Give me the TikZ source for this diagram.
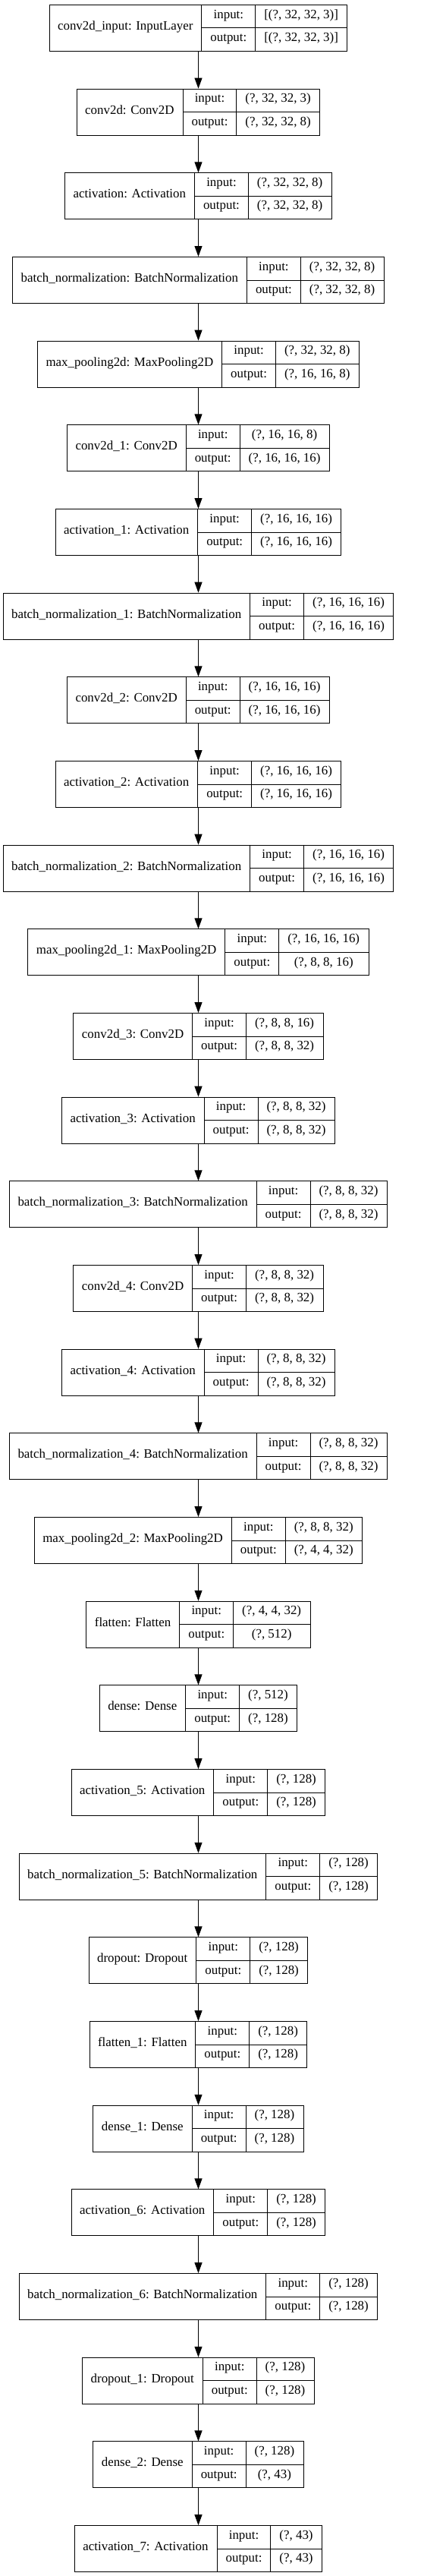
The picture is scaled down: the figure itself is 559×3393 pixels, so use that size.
\documentclass[tikz,border=0pt]{standalone}
\usepackage{fontspec}
\setmainfont{Liberation Serif}
\usetikzlibrary{arrows.meta}
\newlength\lwa \newlength\lwb \newlength\lwc \newlength\ltmp \newlength\lwt \newlength\lxl \newlength\lyt
\newcommand\lfont{\fontsize{16.9}{20}\selectfont}
\tikzset{
  box/.style={draw, line width=1pt, inner sep=0pt, minimum height=61pt},
  sep/.style={line width=1pt},
  txt/.style={inner sep=0pt, font=\lfont, text height=0.68em, text depth=0.2em},
  conn/.style={line width=1pt, -{Triangle[length=14pt,width=10pt]}}
}
\newcommand\meas[4]{%
  \settowidth\lwa{\lfont #2}\addtolength\lwa{23pt}%
  \settowidth\lwb{\lfont output:}\addtolength\lwb{23pt}%
  \settowidth\lwc{\lfont #3}\settowidth\ltmp{\lfont #4}%
  \ifdim\ltmp>\lwc \lwc=\ltmp\fi\addtolength\lwc{23pt}%
  \expandafter\xdef\csname mwa#1\endcsname{\the\lwa}%
  \expandafter\xdef\csname mwb#1\endcsname{\the\lwb}%
  \expandafter\xdef\csname mwc#1\endcsname{\the\lwc}%
}
\newcommand\layer[4]{%
  \lwa=\csname mwa#1\endcsname\relax
  \lwb=\csname mwb#1\endcsname\relax
  \lwc=\csname mwc#1\endcsname\relax
  \lwt=\lwa \addtolength\lwt{\lwb}\addtolength\lwt{\lwc}%
  \lxl=261pt \addtolength\lxl{-0.5\lwt}%
  \pgfmathsetlength\lyt{-6pt-110.67pt*#1}%
  \node[box, minimum width=\lwt, anchor=north west] (n#1) at (\lxl,\lyt) {};
  \draw[sep] ([xshift=\lwa]n#1.north west) -- ([xshift=\lwa]n#1.south west);
  \draw[sep] ([xshift=\lwa+\lwb]n#1.north west) -- ([xshift=\lwa+\lwb]n#1.south west);
  \draw[sep] ([xshift=\lwa]n#1.west) -- (n#1.east);
  \node[txt] (n#1l) at ([xshift=0.5\lwa]n#1.west) {#2};
  \node[txt] (n#1a) at ([xshift=\lwa+0.5\lwb, yshift=15.25pt]n#1.west) {input:};
  \node[txt] (n#1b) at ([xshift=\lwa+0.5\lwb, yshift=-15.25pt]n#1.west) {output:};
  \node[txt] (n#1c) at ([xshift=\lwa+\lwb+0.5\lwc, yshift=15.25pt]n#1.west) {#3};
  \node[txt] (n#1d) at ([xshift=\lwa+\lwb+0.5\lwc, yshift=-15.25pt]n#1.west) {#4};
}
\newcommand\alllayers[1]{%
#1{0}{conv2d\_input: InputLayer}{[(?, 32, 32, 3)]}{[(?, 32, 32, 3)]}%
#1{1}{conv2d: Conv2D}{(?, 32, 32, 3)}{(?, 32, 32, 8)}%
#1{2}{activation: Activation}{(?, 32, 32, 8)}{(?, 32, 32, 8)}%
#1{3}{batch\_normalization: BatchNormalization}{(?, 32, 32, 8)}{(?, 32, 32, 8)}%
#1{4}{max\_pooling2d: MaxPooling2D}{(?, 32, 32, 8)}{(?, 16, 16, 8)}%
#1{5}{conv2d\_1: Conv2D}{(?, 16, 16, 8)}{(?, 16, 16, 16)}%
#1{6}{activation\_1: Activation}{(?, 16, 16, 16)}{(?, 16, 16, 16)}%
#1{7}{batch\_normalization\_1: BatchNormalization}{(?, 16, 16, 16)}{(?, 16, 16, 16)}%
#1{8}{conv2d\_2: Conv2D}{(?, 16, 16, 16)}{(?, 16, 16, 16)}%
#1{9}{activation\_2: Activation}{(?, 16, 16, 16)}{(?, 16, 16, 16)}%
#1{10}{batch\_normalization\_2: BatchNormalization}{(?, 16, 16, 16)}{(?, 16, 16, 16)}%
#1{11}{max\_pooling2d\_1: MaxPooling2D}{(?, 16, 16, 16)}{(?, 8, 8, 16)}%
#1{12}{conv2d\_3: Conv2D}{(?, 8, 8, 16)}{(?, 8, 8, 32)}%
#1{13}{activation\_3: Activation}{(?, 8, 8, 32)}{(?, 8, 8, 32)}%
#1{14}{batch\_normalization\_3: BatchNormalization}{(?, 8, 8, 32)}{(?, 8, 8, 32)}%
#1{15}{conv2d\_4: Conv2D}{(?, 8, 8, 32)}{(?, 8, 8, 32)}%
#1{16}{activation\_4: Activation}{(?, 8, 8, 32)}{(?, 8, 8, 32)}%
#1{17}{batch\_normalization\_4: BatchNormalization}{(?, 8, 8, 32)}{(?, 8, 8, 32)}%
#1{18}{max\_pooling2d\_2: MaxPooling2D}{(?, 8, 8, 32)}{(?, 4, 4, 32)}%
#1{19}{flatten: Flatten}{(?, 4, 4, 32)}{(?, 512)}%
#1{20}{dense: Dense}{(?, 512)}{(?, 128)}%
#1{21}{activation\_5: Activation}{(?, 128)}{(?, 128)}%
#1{22}{batch\_normalization\_5: BatchNormalization}{(?, 128)}{(?, 128)}%
#1{23}{dropout: Dropout}{(?, 128)}{(?, 128)}%
#1{24}{flatten\_1: Flatten}{(?, 128)}{(?, 128)}%
#1{25}{dense\_1: Dense}{(?, 128)}{(?, 128)}%
#1{26}{activation\_6: Activation}{(?, 128)}{(?, 128)}%
#1{27}{batch\_normalization\_6: BatchNormalization}{(?, 128)}{(?, 128)}%
#1{28}{dropout\_1: Dropout}{(?, 128)}{(?, 128)}%
#1{29}{dense\_2: Dense}{(?, 128)}{(?, 43)}%
#1{30}{activation\_7: Activation}{(?, 43)}{(?, 43)}%
}
\begin{document}
\setbox0=\hbox{\alllayers\meas}%
\begin{tikzpicture}
\useasboundingbox (0,0) rectangle (559pt,-3393pt);
\alllayers\layer
\foreach \i [evaluate=\i as \j using int(\i+1)] in {0,...,29}
  \draw[conn] (n\i.south) -- (n\j.north);
\end{tikzpicture}
\end{document}
